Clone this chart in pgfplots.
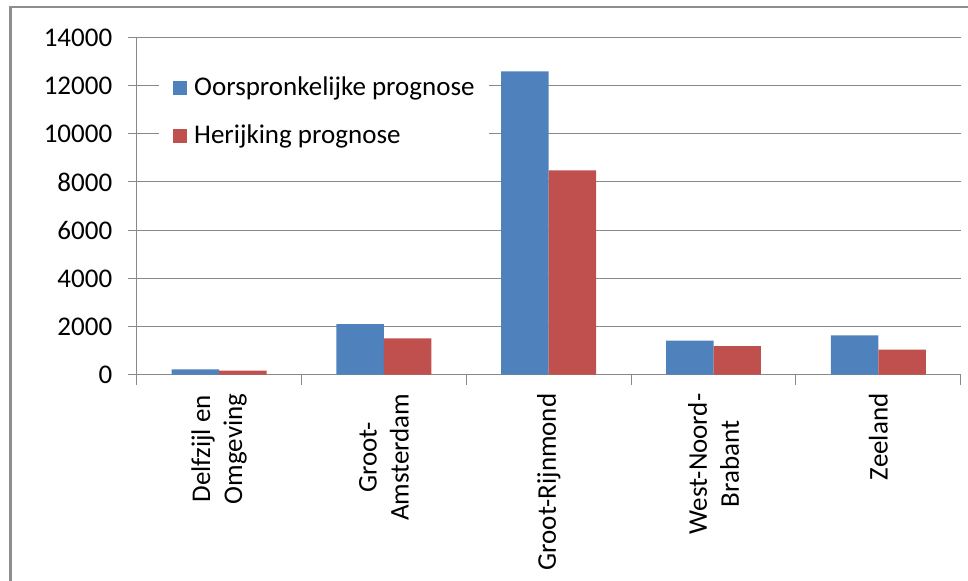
\documentclass[border=0pt]{standalone}
\usepackage{fontspec}
\setmainfont{Carlito}
\usepackage{pgfplots}
\pgfplotsset{compat=1.18}

\definecolor{serieA}{HTML}{4F81BD}
\definecolor{serieB}{HTML}{C0504D}
\definecolor{lijn}{HTML}{898989}
\definecolor{kader}{HTML}{8E8E8E}

% prognose per regio: origineel (a) en herijkt (b)
\pgfplotstableread{
x a b
0 220 170
1 2100 1510
2 12590 8480
3 1410 1190
4 1630 1040
}\prognose

\begin{document}
\fontsize{27bp}{32bp}\selectfont
\begin{tikzpicture}
\path[use as bounding box] (0,0) rectangle (968bp,-581bp);
\begin{scope}
  \clip (0,0) rectangle (968bp,-581bp);
  \draw[kader, line width=2.5bp] (10.3bp,-7bp) rectangle (1000bp,-640bp);
\end{scope}
\begin{axis}[
  at={(136.7bp,-374.7bp)}, anchor=south west,
  scale only axis, width=824bp, height=337.3bp,
  xmin=-0.5, xmax=4.5, ymin=0, ymax=14000,
  axis x line*=bottom, axis y line*=left,
  axis line style={lijn, line width=1bp},
  tick align=outside,
  major tick length=9bp, minor tick length=10bp,
  every tick/.style={lijn, line width=1bp},
  xtick={0,1,2,3,4},
  major x tick style={draw=none},
  minor xtick={-0.5,0.5,1.5,2.5,3.5,4.5},
  xticklabels={{Delfzijl en\\Omgeving},{Groot-\\Amsterdam},{Groot-Rijnmond},{West-Noord-\\Brabant},{Zeeland}},
  xticklabel style={rotate=90, anchor=east, align=center, inner sep=0pt},
  xticklabel shift=9.7bp,
  ytick={0,2000,...,14000},
  scaled y ticks=false,
  yticklabel style={anchor=east, inner sep=0pt},
  yticklabel shift=15.3bp,
  /pgf/number format/.cd, 1000 sep={}, assume math mode=true,
  /pgfplots/.cd,
  ymajorgrids, major grid style={lijn, line width=1bp},
  ybar, bar width=0.288,
  legend style={at={(22.3bp,306bp)}, anchor=north west, draw=none, fill=white,
    inner xsep=14bp, inner ysep=8bp, row sep=25bp,
    nodes={inner sep=0pt, anchor=west}},
  legend cell align=left,
]
\addplot[draw=none, fill=serieA, bar shift=-0.144,
  legend image code/.code={\fill[serieA] (0bp,-7bp) rectangle (14bp,7bp); \path (21bp,0bp);}]
  table[x=x, y=a] {\prognose};
\addlegendentry{Oorspronkelijke prognose}
\addplot[draw=none, fill=serieB, bar shift=0.144,
  legend image code/.code={\fill[serieB] (0bp,-7bp) rectangle (14bp,7bp); \path (21bp,0bp);}]
  table[x=x, y=b] {\prognose};
\addlegendentry{Herijking prognose}
\end{axis}
\end{tikzpicture}
\end{document}
